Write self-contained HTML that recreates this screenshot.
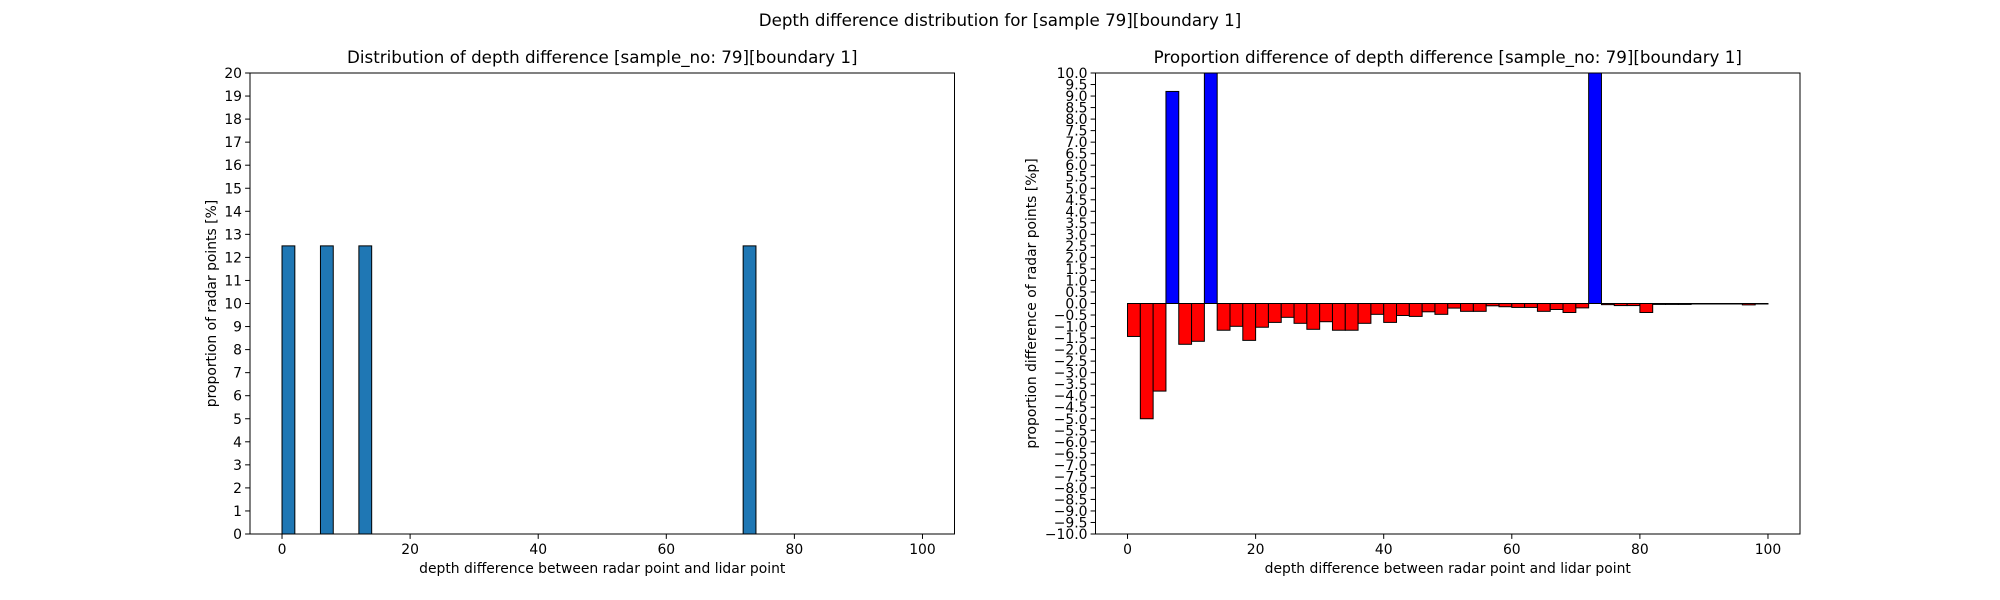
<!DOCTYPE html>
<html><head><meta charset="utf-8">
<style>
html,body{margin:0;padding:0;background:#fff;}
svg{display:block;font-family:"DejaVu Sans","Liberation Sans",sans-serif;}
</style></head>
<body>
<svg id="fig" width="2000" height="600" viewBox="0 0 2000 600" xmlns="http://www.w3.org/2000/svg">
<rect width="2000" height="600" fill="#fff"/>
<text x="1000" y="26" text-anchor="middle" font-size="16.7">Depth difference distribution for [sample 79][boundary 1]</text>
</svg>
<script>
// Left chart data
const leftBinStarts = [0, 6, 12, 72];
const leftValues = [12.5, 12.5, 12.5, 12.5];
const leftYTicks = [0,1,2,3,4,5,6,7,8,9,10,11,12,13,14,15,16,17,18,19,20];
const xTicks = [0,20,40,60,80,100];
// Right chart data (bins of width 2 starting at 0)
const rightValues = [-1.43,-5.0,-3.8,9.2,-1.77,-1.64,11,-1.16,-0.99,-1.6,
 -1.03,-0.82,-0.6,-0.86,-1.12,-0.79,-1.16,-1.16,-0.86,-0.47,
 -0.82,-0.52,-0.56,-0.36,-0.47,-0.2,-0.34,-0.34,-0.1,-0.14,
 -0.17,-0.17,-0.34,-0.26,-0.39,-0.19,11,-0.05,-0.09,-0.09,
 -0.39,-0.04,-0.04,-0.04,-0.02,-0.02,-0.02,-0.02,-0.06,-0.02];
const rightYTicks = [];
for (let i = -20; i <= 20; i++) rightYTicks.push(i/2);
const binWidth = 2;

const NS = "http://www.w3.org/2000/svg";
const svg = document.getElementById('fig');
function mk(tag, attrs, parent){
  const e = document.createElementNS(NS, tag);
  for (const k in attrs) e.setAttribute(k, attrs[k]);
  (parent||svg).appendChild(e);
  return e;
}

function axes(cfg){
  const L=cfg.left, R=cfg.right, T=73, B=534;
  const sx = v => L + (v - cfg.xmin)/(cfg.xmax - cfg.xmin)*(R-L);
  const sy = v => B - (v - cfg.ymin)/(cfg.ymax - cfg.ymin)*(B-T);
  const g = mk('g', {});
  
  
  const clipId = cfg.name + '-clip';
  const cp = mk('clipPath', {id: clipId}, g);
  mk('rect', {x:L, y:T, width:R-L, height:B-T}, cp);
  const bars = mk('g', {'clip-path': 'url(#'+clipId+')'}, g);
  cfg.bars(bars, sx, sy);
  // frame
  const fr = mk('rect', {x:L, y:T, width:R-L, height:B-T, fill:'none', stroke:'#000', 'stroke-width':1}, g);
  
  
  // x ticks
  xTicks.forEach(t => {
    const x = sx(t);
    mk('line', {x1:x, x2:x, y1:B, y2:B+4.9, stroke:'#000', 'stroke-width':1}, g);
    const tx = mk('text', {x:x, y:B+20, 'text-anchor':'middle', 'font-size':13.9}, g);
    tx.textContent = t;
    
    
  });
  cfg.yTicks.forEach(t => {
    const y = sy(t);
    mk('line', {x1:L-4.9, x2:L, y1:y, y2:y, stroke:'#000', 'stroke-width':1}, g);
    const tx = mk('text', {x:L-8, y:y+5, 'text-anchor':'end', 'font-size':13.9}, g);
    tx.textContent = cfg.fmt(t);
    
    
  });
  const title = mk('text', {x:(L+R)/2, y:63, 'text-anchor':'middle', 'font-size':16.7}, g);
  title.textContent = cfg.title;
  
  
  const xl = mk('text', {x:(L+R)/2, y:573, 'text-anchor':'middle', 'font-size':13.9}, g);
  xl.textContent = 'depth difference between radar point and lidar point';
  
  
  const yx = cfg.ylx, yy = (T+B)/2;
  const yl = mk('text', {x:yx, y:yy, 'text-anchor':'middle', 'font-size':13.9, transform:'rotate(-90 '+yx+' '+yy+')'}, g);
  yl.textContent = cfg.ylabel;
  
  
}

axes({name:'distribution-chart', left:250, right:954.5, xmin:-5, xmax:105, ymin:0, ymax:20,
  yTicks:leftYTicks, fmt:t=>String(t), ylx:216,
  title:'Distribution of depth difference [sample_no: 79][boundary 1]',
  ylabel:'proportion of radar points [%]',
  bars:(g,sx,sy)=>{
    leftBinStarts.forEach((s,i)=>{
      const x0=sx(s), x1=sx(s+binWidth), y=sy(leftValues[i]), y0=sy(0);
      const r = mk('rect',{x:x0,y:Math.min(y,y0),width:x1-x0,height:Math.abs(y0-y),fill:'#1f77b4',stroke:'#000','stroke-width':1},g);
      
      
    });
  }});

axes({name:'proportion-difference-chart', left:1095.5, right:1800, xmin:-5, xmax:105, ymin:-10, ymax:10,
  yTicks:rightYTicks, fmt:t=>(t<0?'\u2212':'')+Math.abs(t).toFixed(1), ylx:1036,
  title:'Proportion difference of depth difference [sample_no: 79][boundary 1]',
  ylabel:'proportion difference of radar points [%p]',
  bars:(g,sx,sy)=>{
    rightValues.forEach((v,i)=>{
      const s=i*binWidth;
      const x0=sx(s), x1=sx(s+binWidth), y=sy(v), y0=sy(0);
      const r = mk('rect',{x:x0,y:Math.min(y,y0),width:x1-x0,height:Math.max(Math.abs(y0-y),0.5),fill:v>=0?'#0000ff':'#ff0000',stroke:'#000','stroke-width':1},g);
      
      
    });
  }});
</script>
</body></html>
